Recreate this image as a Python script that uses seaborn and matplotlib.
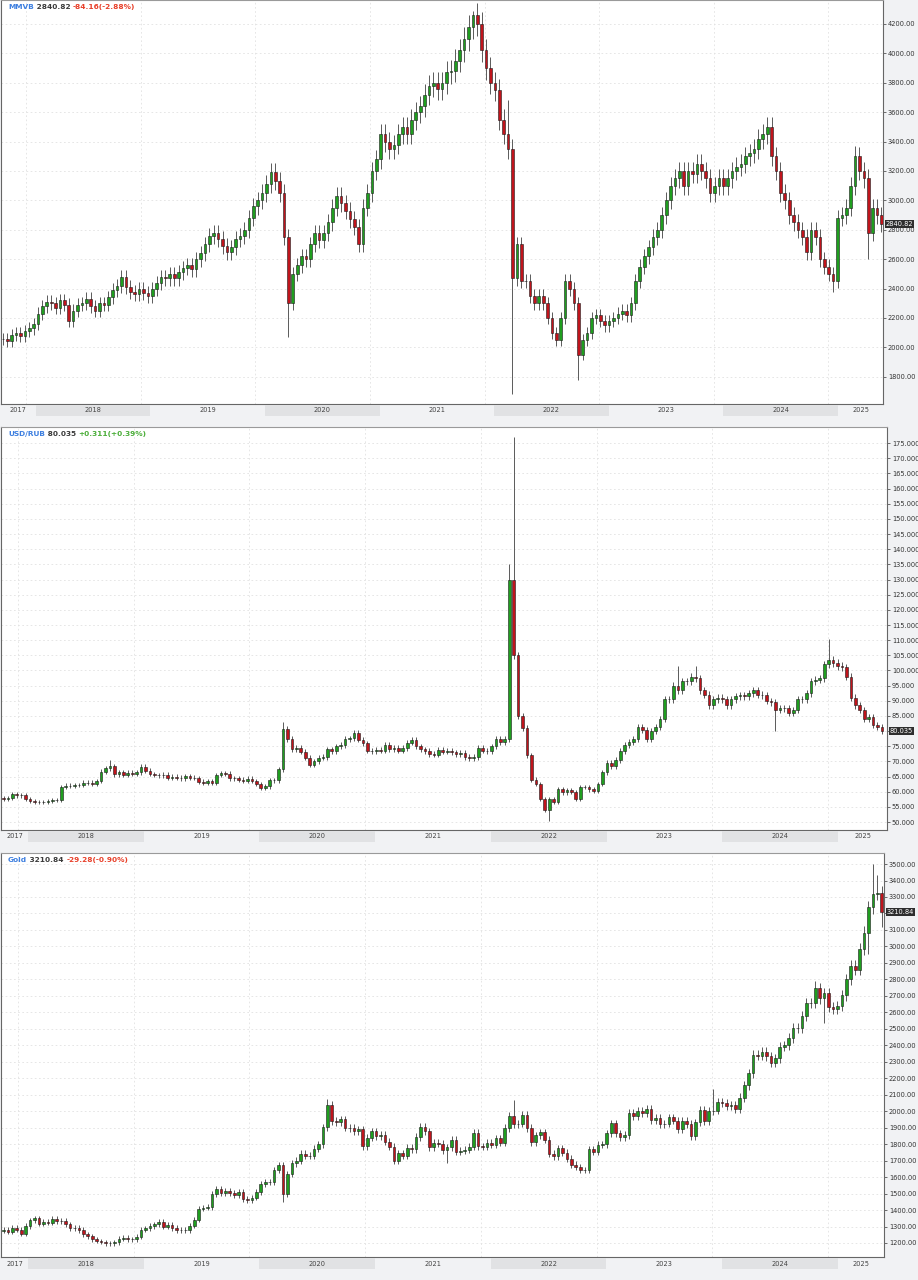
import numpy as np
import pandas as pd
import matplotlib
matplotlib.use('Agg')
import matplotlib.pyplot as plt
import matplotlib.dates as mdates
import seaborn as sns

# two-week candles, each stamp is the start of the period
dates = pd.date_range('2017-09-11', periods=201, freq='14D')

# MMVB closes (2017 tail, then one row per year, last row starts Dec 23 2024)
mmvb_close = (
    [2060, 2045, 2085, 2100, 2080, 2110, 2130, 2160]
    + [2230, 2280, 2310, 2300, 2270, 2320, 2290, 2180, 2250, 2290, 2300, 2330, 2280,
       2250, 2300, 2290, 2340, 2390, 2420, 2480, 2410, 2380, 2360, 2400, 2370, 2350]
    + [2400, 2440, 2480, 2470, 2500, 2470, 2510, 2540, 2560, 2530, 2600, 2640, 2700,
       2760, 2780, 2740, 2690, 2650, 2680, 2740, 2760, 2800, 2880, 2960, 3000, 3050]
    + [3110, 3190, 3130, 3050, 2750, 2300, 2500, 2560, 2620, 2600, 2700, 2780, 2730,
       2780, 2850, 2950, 3030, 2980, 2930, 2870, 2820, 2700, 2950, 3050, 3200, 3280]
    + [3450, 3400, 3350, 3380, 3450, 3500, 3450, 3550, 3600, 3640, 3720, 3780, 3800,
       3760, 3800, 3870, 3880, 3950, 4020, 4100, 4180, 4260, 4200, 4020, 3900, 3800]
    + [3750, 3550, 3450, 3350, 2470, 2700, 2450, 2450, 2350, 2300, 2350, 2300, 2200,
       2100, 2050, 2200, 2450, 2400, 2300, 1950, 2050, 2100, 2200, 2220, 2180, 2150]
    + [2180, 2200, 2230, 2250, 2220, 2300, 2450, 2550, 2620, 2680, 2750, 2800, 2900,
       3000, 3100, 3150, 3200, 3100, 3200, 3180, 3250, 3200, 3150, 3050, 3100, 3150]
    + [3100, 3150, 3200, 3230, 3250, 3300, 3320, 3350, 3420, 3450, 3500, 3300, 3200,
       3050, 3000, 2900, 2850, 2800, 2750, 2650, 2800, 2750, 2600, 2550, 2500, 2450]
    + [2880, 2900, 2950, 3100, 3300, 3200, 3150, 2780, 2950, 2900, 2840.82]
)
mmvb_high = {107: 4290, 115: 3680, 194: 3370}
mmvb_low = {65: 2070, 116: 1680, 131: 1780, 189: 2380, 197: 2600}

usd_close = (
    [57.6, 57.9, 57.7, 58.0, 59.3, 58.8, 58.9, 57.7]
    + [57.0, 56.5, 56.6, 56.7, 57.0, 57.2, 57.3, 61.5, 62.0, 62.0, 62.2, 62.3, 63.0,
       63.0, 62.6, 63.5, 66.6, 67.8, 68.5, 65.8, 66.4, 65.6, 66.3, 66.0, 66.5, 68.2]
    + [67.0, 65.9, 65.5, 65.4, 65.7, 64.5, 65.0, 64.6, 64.4, 65.2, 64.6, 64.5, 63.3,
       63.0, 63.4, 63.0, 65.5, 66.2, 66.0, 64.4, 64.5, 64.0, 63.7, 64.3, 63.5, 62.5]
    + [61.2, 61.8, 63.8, 63.8, 67.5, 80.8, 77.5, 74.0, 74.5, 73.2, 71.2, 69.0, 70.0,
       71.2, 71.5, 74.0, 73.5, 75.0, 75.5, 77.5, 77.6, 79.3, 77.2, 76.0, 73.6, 73.5]
    + [73.8, 73.6, 75.5, 74.0, 74.5, 73.6, 74.5, 76.2, 77.0, 75.0, 74.0, 73.5, 72.5,
       72.2, 73.8, 73.2, 73.5, 73.0, 72.5, 72.8, 71.5, 71.0, 71.5, 74.5, 73.6, 73.5]
    + [75.0, 77.5, 76.5, 77.5, 130.0, 105.0, 85.0, 81.0, 72.0, 64.0, 62.5, 57.5, 54.0,
       57.5, 56.5, 60.8, 59.8, 60.5, 60.0, 57.5, 61.5, 61.5, 60.8, 60.4, 62.5, 66.5]
    + [69.5, 68.5, 70.5, 73.5, 75.5, 76.5, 77.5, 81.5, 80.5, 77.5, 80.0, 81.5, 84.0,
       90.5, 90.5, 95.0, 93.5, 96.5, 96.5, 98.0, 97.5, 93.5, 92.0, 88.5, 90.5, 91.0]
    + [90.5, 88.5, 90.5, 91.5, 91.8, 91.5, 92.5, 93.5, 92.0, 91.8, 90.0, 89.5, 87.0,
       87.5, 87.5, 86.0, 87.0, 90.5, 90.5, 92.5, 96.5, 97.0, 97.5, 102.0, 103.5, 102.5]
    + [101.5, 101.0, 98.0, 91.0, 88.5, 87.0, 84.0, 84.5, 82.0, 81.5, 80.035]
)
usd_high = {26: 70.5, 65: 83.0, 116: 135.0, 117: 177.0, 154: 101.5, 158: 101.5, 188: 110.5}
usd_low = {125: 50.5, 176: 80.0}

gold_close = (
    [1297, 1274, 1280, 1269, 1293, 1280, 1257, 1303]
    + [1338, 1350, 1316, 1330, 1323, 1347, 1332, 1336, 1314, 1291, 1294, 1279, 1252,
       1241, 1223, 1212, 1206, 1198, 1199, 1204, 1227, 1232, 1222, 1222, 1238, 1280]
    + [1290, 1303, 1314, 1330, 1298, 1312, 1291, 1276, 1281, 1278, 1305, 1341, 1409,
       1415, 1419, 1497, 1527, 1506, 1517, 1505, 1490, 1512, 1468, 1463, 1476, 1510]
    + [1557, 1571, 1570, 1643, 1673, 1499, 1620, 1683, 1700, 1743, 1730, 1730, 1771,
       1798, 1902, 2035, 1940, 1934, 1950, 1900, 1899, 1879, 1889, 1788, 1840, 1877]
    + [1850, 1856, 1814, 1784, 1700, 1745, 1729, 1777, 1769, 1843, 1903, 1877, 1781,
       1808, 1802, 1763, 1781, 1827, 1754, 1761, 1767, 1783, 1868, 1788, 1783, 1808]
    + [1797, 1835, 1808, 1898, 1970, 1921, 1925, 1975, 1897, 1811, 1853, 1871, 1827,
       1742, 1727, 1775, 1747, 1712, 1675, 1661, 1644, 1644, 1769, 1755, 1797, 1798]
    + [1865, 1926, 1865, 1842, 1856, 1989, 1969, 2004, 1990, 2011, 1946, 1961, 1921,
       1925, 1962, 1943, 1889, 1940, 1924, 1848, 1932, 2006, 1940, 2002, 2004, 2053]
    + [2049, 2029, 2039, 2013, 2083, 2156, 2230, 2344, 2337, 2360, 2334, 2294, 2321,
       2392, 2400, 2443, 2507, 2503, 2578, 2658, 2656, 2747, 2685, 2715, 2633, 2622]
    + [2640, 2703, 2800, 2883, 2858, 2984, 3084, 3237, 3319, 3325, 3210.84]
)
gold_high = {75: 2075, 117: 2070, 162: 2135, 185: 2790, 198: 3500, 199: 3435}
gold_low = {65: 1451, 102: 1687, 187: 2537, 197: 2957, 200: 3120}

years = list(range(2017, 2026))

sns.set_theme(style='white')
plt.rcParams['font.family'] = ['DejaVu Sans']

W, H = 918, 1280
BG = '#f1f2f4'
BLUE, RED, GREEN_TXT = '#3d7fe0', '#e8402a', '#4cae3a'
UP, DOWN = '#1f9e1f', '#c0141c'

panels = [
    dict(name='MMVB', close=mmvb_close, hi=mmvb_high, lo=mmvb_low, wick=0.02,
         top=0, bottom=404, right=883, xlim=('2017-09-12', '2025-05-24'),
         ylim=(1615, 4363), ticks=np.arange(1800, 4201, 200), fmt='{:.2f}',
         last='2840.82', chg='-84.16(-2.88%)', chg_color=RED),
    dict(name='USD/RUB', close=usd_close, hi=usd_high, lo=usd_low, wick=0.012,
         top=427, bottom=830, right=887, xlim=('2017-10-08', '2025-06-04'),
         ylim=(47.4, 180.3), ticks=np.arange(50, 176, 5), fmt='{:.3f}',
         last='80.035', chg='+0.311(+0.39%)', chg_color=GREEN_TXT),
    dict(name='Gold', close=gold_close, hi=gold_high, lo=gold_low, wick=0.012,
         top=853, bottom=1257, right=884, xlim=('2017-10-08', '2025-05-26'),
         ylim=(1115, 3567), ticks=np.arange(1200, 3501, 100), fmt='{:.2f}',
         last='3210.84', chg='-29.28(-0.90%)', chg_color=RED),
]

fig = plt.figure(figsize=(W / 100, H / 100), dpi=100, facecolor=BG)
xc = mdates.date2num(dates + pd.Timedelta(days=7))
grid_x = [mdates.date2num(pd.Timestamp(f'{y - 1}-12-01')) for y in years[1:]]

for p in panels:
    ax = fig.add_axes([1 / W, 1 - p['bottom'] / H, (p['right'] - 1) / W,
                       (p['bottom'] - p['top']) / H])
    ax.set_facecolor('white')

    c = np.asarray(p['close'], float)
    o = np.r_[c[0], c[:-1]]
    high = np.maximum(o, c) * (1 + p['wick'])
    low = np.minimum(o, c) * (1 - p['wick'])
    for k, v in p['hi'].items():
        high[k] = v
    for k, v in p['lo'].items():
        low[k] = v
    up = c >= o

    ax.vlines(xc, low, high, color='#5a5a5a', lw=0.7, zorder=2)
    ax.bar(xc[up], (c - o)[up], bottom=o[up], width=8.5, color=UP,
           edgecolor='#1a1a1a', linewidth=0.4, zorder=3)
    ax.bar(xc[~up], (o - c)[~up], bottom=c[~up], width=8.5, color=DOWN,
           edgecolor='#1a1a1a', linewidth=0.4, zorder=3)

    x0, x1 = [mdates.date2num(pd.Timestamp(d)) for d in p['xlim']]
    ax.set_xlim(x0, x1)
    ax.set_ylim(*p['ylim'])
    ax.set_xticks(grid_x)
    ax.set_xticklabels([])
    ax.yaxis.tick_right()
    ax.set_yticks(p['ticks'])
    ax.set_yticklabels([p['fmt'].format(t) for t in p['ticks']])
    ax.tick_params(axis='y', labelsize=4.8, labelcolor='#333333', color='#555555',
                   length=2.5, width=0.6, pad=1, direction='out')
    ax.tick_params(axis='x', length=2.5, width=0.6, color='#555555', direction='inout')
    ax.grid(True, color='#e2e2e2', lw=0.6, ls=(0, (2, 3)))
    ax.set_axisbelow(True)
    for side, sp in ax.spines.items():
        sp.set_visible(True)
        sp.set_linewidth(0.8)
        sp.set_color('#9a9a9a' if side == 'top' else '#666666')

    # last price tag on the price scale
    ax.text(1.003, c[-1], p['last'], transform=ax.get_yaxis_transform(),
            ha='left', va='center', fontsize=4.8, color='white', clip_on=False,
            zorder=10, bbox=dict(boxstyle='square,pad=0.15', fc='#2e2e2e', ec='none'))

    # header: symbol, price, change
    t1 = fig.text(8 / W, 1 - (p['top'] + 7) / H, p['name'], color=BLUE,
                  fontsize=5.3, fontweight='bold', va='center')
    t2 = ax.annotate(' ' + p['last'] + ' ', xy=(1, 0.5), xycoords=t1, va='center',
                     fontsize=5.3, fontweight='bold', color='#3a3a3a',
                     annotation_clip=False)
    ax.annotate(p['chg'], xy=(1, 0.5), xycoords=t2, va='center', fontsize=5.3,
                fontweight='bold', color=p['chg_color'], annotation_clip=False)

    # year strip under the panel
    bar = fig.add_axes([1 / W, 1 - (p['bottom'] + 12) / H, (p['right'] - 1) / W, 11 / H])
    bar.set_xlim(x0, x1)
    bar.set_ylim(0, 1)
    bar.set_axis_off()
    for y in years:
        a = mdates.date2num(pd.Timestamp(f'{y}-01-01'))
        b = mdates.date2num(pd.Timestamp(f'{y + 1}-01-01'))
        if y % 2 == 0:
            bar.axvspan(a, b, color='#e1e2e4', lw=0)
        mid = (max(a, x0) + min(b, x1)) / 2
        bar.text(mid, 0.5, str(y), ha='center', va='center', fontsize=4.8,
                 color='#444444')

fig.savefig('out.png', dpi=100, facecolor=BG)
